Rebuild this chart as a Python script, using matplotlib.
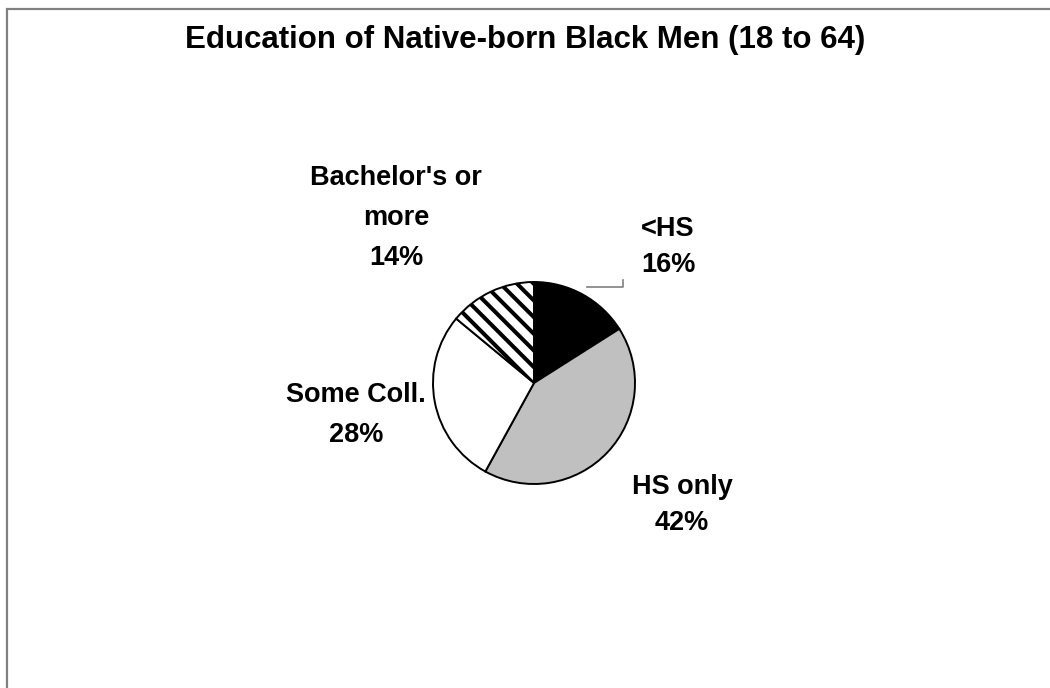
import numpy as np
import matplotlib
matplotlib.use("Agg")
import matplotlib.pyplot as plt
from matplotlib.patches import Rectangle

plt.rcParams['font.family'] = ['Liberation Sans', 'DejaVu Sans']
plt.rcParams['hatch.linewidth'] = 2.9

W, H = 1050, 688
TITLE = "Education of Native-born Black Men (18 to 64)"

categories = ["<HS", "HS only", "Some Coll.", "Bachelor's or\nmore"]
shares = [16, 42, 28, 14]
colors = ["black", "#c0c0c0", "white", "white"]
hatches = [None, None, None, "\\\\"]

# pie centre and radius in pixels; everything else in units of the radius
CX, CY, R = 534, 383, 101
# label centres (pixels) and line spacing
label_pos = [(668, 247), (682, 505), (356, 415), (396, 218)]
label_ls = [1.5, 1.5, 1.67, 1.68]

fig = plt.figure(figsize=(W / 100, H / 100), dpi=100)
ax = fig.add_axes([0, 0, 1, 1])

def px(x, y):
    return (x - CX) / R, (CY - y) / R

wedges, _ = ax.pie(shares, colors=colors, startangle=90, counterclock=False,
                   radius=1.0, wedgeprops=dict(edgecolor='black', linewidth=1.4))
for w, h in zip(wedges, hatches):
    if h:
        w.set_hatch(h)

ax.set_xlim(-CX / R, (W - CX) / R)
ax.set_ylim(-(H - CY) / R, CY / R)
ax.set_aspect('equal')
ax.axis('off')

for cat, val, (lx, ly), ls in zip(categories, shares, label_pos, label_ls):
    ax.text(*px(lx, ly), f"{cat}\n{val}%", ha='center', va='center',
            fontsize=19.5, fontweight='bold', linespacing=ls)

# leader line for the first slice
ang = np.deg2rad(90 - shares[0] / sum(shares) * 360 / 2)
x0, y0 = 1.08 * np.cos(ang), 1.08 * np.sin(ang)
x1, _ = px(623, 0)
ax.plot([x0, x1, x1], [y0, y0, y0 + 7 / R], color='#808080', lw=1.2)

fig.text(0.5, 1 - 40 / H, TITLE, ha='center', va='center',
         fontsize=22.5, fontweight='bold')

# chart frame (only top and left edges visible)
fig.patches.append(Rectangle((7 / W, -0.1), 1.2, 1.1 - 9 / H, transform=fig.transFigure,
                             fill=False, edgecolor='#808080', linewidth=1.6))

fig.savefig("out.png", dpi=100)
